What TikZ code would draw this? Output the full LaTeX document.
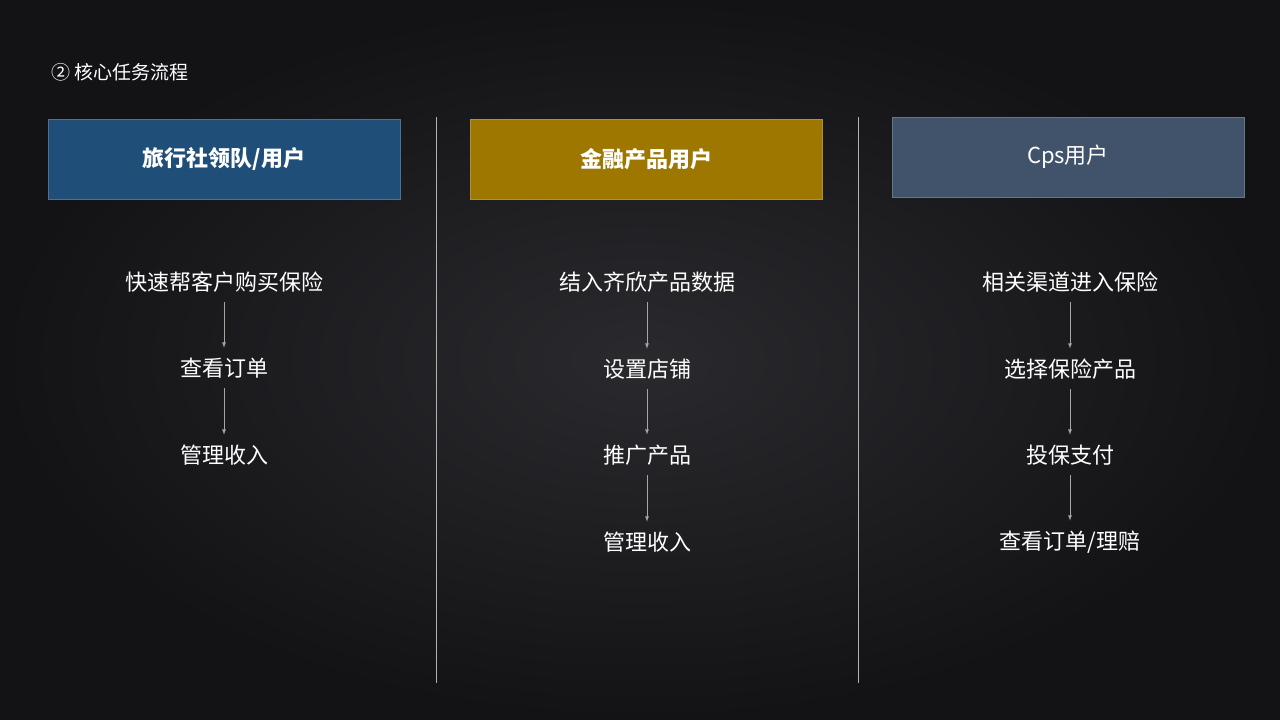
\documentclass[tikz,border=0pt]{standalone}
\usepackage{fontspec}
\setmainfont{Noto Sans CJK SC}
\newfontfamily\cjkb{Noto Sans CJK SC}[BoldFont={Noto Sans CJK SC Bold}]
\begin{document}
\begin{tikzpicture}[x=1pt,y=-1pt,
  hdr/.style={minimum width=352pt,minimum height=80pt,inner sep=0pt,text=white,font=\fontsize{22}{26}\selectfont},
  itm/.style={text=white,font=\fontsize{22}{26}\selectfont,inner sep=2pt},
  arr/.style={draw=gray!70,-latex,line width=0.8pt,shorten <=8pt,shorten >=8pt},
  sep/.style={draw=gray!60,line width=0.8pt}]
\definecolor{bA}{HTML}{1F4E79}\definecolor{bB}{HTML}{9E7700}\definecolor{bC}{HTML}{41526B}
\definecolor{bgin}{HTML}{2A2A2E}\definecolor{bgout}{HTML}{131316}
\useasboundingbox (0,0) rectangle (1280,720);
\shade[inner color=bgin,outer color=bgout] (0,0) rectangle (1280,720);
\node[anchor=west,text=white,font=\fontsize{19}{22}\selectfont] (title) at (48,72) {② 核心任务流程};
\node[hdr,fill=bA,draw=bA!80!white] (h1) at (224,159) {\bfseries 旅行社领队/用户};
\node[hdr,fill=bB,draw=bB!80!white] (h2) at (646,159) {\bfseries 金融产品用户};
\node[hdr,fill=bC,draw=bC!80!white] (h3) at (1068,157) {Cps用户};
\coordinate (s1a) at (436,117); \coordinate (s1b) at (436,683);
\coordinate (s2a) at (858,117); \coordinate (s2b) at (858,683);
\draw[sep] (s1a) -- (s1b); \draw[sep] (s2a) -- (s2b);
\node[itm] (a1) at (224,282) {快速帮客户购买保险};
\node[itm] (a2) at (224,368) {查看订单};
\node[itm] (a3) at (224,455) {管理收入};
\node[itm] (b1) at (647,282) {结入齐欣产品数据};
\node[itm] (b2) at (647,369) {设置店铺};
\node[itm] (b3) at (647,455) {推广产品};
\node[itm] (b4) at (647,542) {管理收入};
\node[itm] (c1) at (1070,282) {相关渠道进入保险};
\node[itm] (c2) at (1070,369) {选择保险产品};
\node[itm] (c3) at (1070,455) {投保支付};
\node[itm] (c4) at (1070,542) {查看订单/理赔};
\draw[arr] (a1) -- (a2); \draw[arr] (a2) -- (a3);
\draw[arr] (b1) -- (b2); \draw[arr] (b2) -- (b3); \draw[arr] (b3) -- (b4);
\draw[arr] (c1) -- (c2); \draw[arr] (c2) -- (c3); \draw[arr] (c3) -- (c4);
\end{tikzpicture}
\end{document}
